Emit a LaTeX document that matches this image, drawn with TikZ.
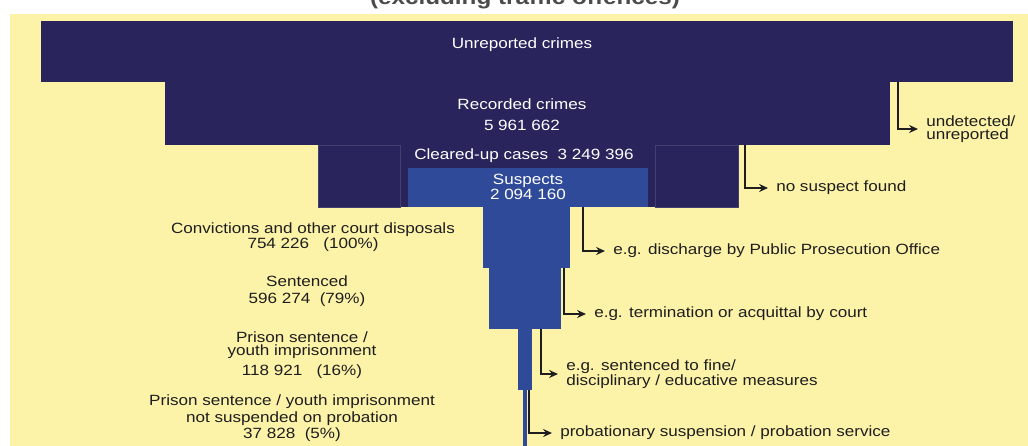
\documentclass[tikz,border=0pt]{standalone}
\usepackage{fontspec}
\setmainfont{Liberation Sans}[FakeStretch=1.15]
\usepackage{tikz}
\usetikzlibrary{arrows.meta}
\definecolor{paper}{HTML}{FCF3A9}
\definecolor{navy}{HTML}{29255C}
\definecolor{steel}{HTML}{2F4A98}
\definecolor{ink}{HTML}{1E1E1E}

\begin{document}
\begin{tikzpicture}
[x=0.02cm,y=-0.02cm
,blk/.style={fill=navy}
,stem/.style={fill=steel}
,seam/.style={draw=navy!88!white,line width=0.3pt}
,txt/.style={font=\fontsize{8.45}{7.6}\selectfont,inner sep=0pt}
,wl/.style={txt,text=white,align=center}
,lbl/.style={txt,text=ink,align=center}
,rl/.style={txt,text=ink,anchor=west,align=left,inner xsep=4.5pt}
,be/.style={draw=ink,line width=1.1pt,arrows={-Stealth[length=5pt,width=4.5pt]}}
]
\useasboundingbox (0,0) rectangle (1028,446);
\clip (0,0) rectangle (1028,446);
\fill[white] (0,0) rectangle (1028,446);
\node[font=\bfseries\fontsize{12}{12}\selectfont,text=ink!80!white,anchor=base] (title) at (525,5) {(excluding traffic offences)};
\fill[paper] (10,14) rectangle (1028,446);
% funnel
\fill[blk] (41,21) rectangle (1013,82);
\fill[blk] (165,82) rectangle (890,145);
\fill[blk] (318,145) rectangle (738,207);
\draw[seam] (318,145) rectangle (400,207);
\draw[seam] (655,145) rectangle (738,207);
\fill[stem] (408,168) rectangle (648,207);
\fill[stem] (483,207) rectangle (570,268);
\fill[stem] (489,268) rectangle (561,329);
\fill[stem] (518,329) rectangle (532,390);
\fill[stem] (523,390) rectangle (527,446);
% texts in the funnel
\node[wl] (unrep) at (522,45) {Unreported crimes};
\node[wl] (rec) at (522,115) {Recorded crimes\\[4.5pt]5 961 662};
\node[wl] (clear) at (524,156) {Cleared-up cases\ \ 3 249 396};
\node[wl] (susp) at (528,187) {Suspects\\2 094 160};
% left labels
\node[lbl] (conv) at (313,237) {Convictions and other court disposals\\754 226\ \ \ (100\%)};
\node[lbl] (sent) at (307,291) {Sentenced\\[2pt]596 274\ \ (79\%)};
\node[lbl] (prison) at (302,355) {Prison sentence /\\youth imprisonment\\[2pt]118 921\ \ \ (16\%)};
\node[lbl] (nosusp) at (292,418) {Prison sentence / youth imprisonment\\[0.8pt]not suspended on probation\\[0.3pt]37 828\ \ (5\%)};
% right labels
\node[rl] (undet) at (918,129) {undetected/\\unreported};
\node[rl] (nofound) at (768,188) {no suspect found};
\node[rl] (disch) at (605,251) {e.g. discharge by Public Prosecution Office};
\node[rl] (termin) at (586,314) {e.g. termination or acquittal by court};
\node[rl] (fine) at (558,374) {e.g. sentenced to fine/\\disciplinary / educative measures};
\node[rl] (probat) at (552,433) {probationary suspension / probation service};
% drop-off points
\coordinate (d1) at (898,82);
\coordinate (d2) at (745,145);
\coordinate (d3) at (583,207);
\coordinate (d4) at (564,268);
\coordinate (d5) at (541,329);
\coordinate (d6) at (529,390);
\draw[be] (d1) |- (undet.west);
\draw[be] (d2) |- (nofound.west);
\draw[be] (d3) |- (disch.west);
\draw[be] (d4) |- (termin.west);
\draw[be] (d5) |- (fine.west);
\draw[be] (d6) |- (probat.west);
\end{tikzpicture}
\end{document}
